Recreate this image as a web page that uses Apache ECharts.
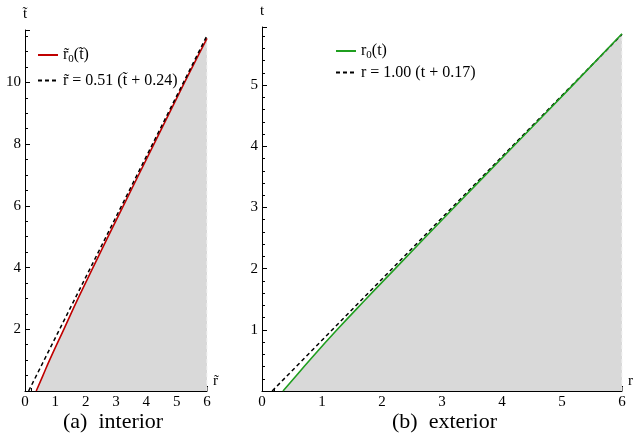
<!DOCTYPE html>
<html>
<head>
<meta charset="utf-8">
<script src="https://cdn.jsdelivr.net/npm/echarts@6/dist/echarts.min.js"></script>
<style>
  html, body { margin: 0; padding: 0; background: #fff; }
  #main { width: 642px; height: 441px; }
</style>
</head>
<body>
<div id="main"></div>
<script>
// (a) interior: r~0(t~), r~ on x, t~ on y
const intR = [0.37, 0.59, 0.81, 1.28, 1.75, 2.24, 3.24, 4.25, 5.26, 6.0];
const intT = [0, 0.5, 1, 2, 3, 4, 6, 8, 10, 11.43];
// dashed fit r~ = 0.51 (t~ + 0.24), end points
const intFitR = [0.12, 6.0];
const intFitT = [0, 11.52];

// (b) exterior: r0(t)
const extR = [0.35, 0.57, 0.79, 1.25, 1.73, 2.22, 3.20, 4.19, 5.18, 6.0];
const extT = [0, 0.25, 0.5, 1, 1.5, 2, 3, 4, 5, 5.84];
// dashed fit r = 1.00 (t + 0.17)
const extFitR = [0.17, 6.0];
const extFitT = [0, 5.83];

const captions = ['(a)  interior', '(b)  exterior'];

const font = 'Liberation Serif';
const RED = '#c00000';
const GREEN = '#1f9e1f';
const GRAY = '#d9d9d9';

function pairs(xs, ys) {
  return xs.map((x, i) => [x, ys[i]]);
}

function xAxisOf(idx, name) {
  return {
    type: 'value', gridIndex: idx, min: 0, max: 6, interval: 1,
    name: name, nameLocation: 'end', nameGap: 6,
    nameTextStyle: { fontFamily: font, fontSize: 15, color: '#000', verticalAlign: 'bottom', padding: [0, 0, 2, 0] },
    axisLine: { onZero: false, lineStyle: { color: '#000', width: 1 } },
    axisTick: { inside: true, length: 5, lineStyle: { color: '#000' } },
    minorTick: { show: true, splitNumber: 5, length: 3, lineStyle: { color: '#000' } },
    axisLabel: { fontFamily: font, fontSize: 15, color: '#000', margin: 4 },
    splitLine: { show: false }
  };
}

function yAxisOf(idx, name, max, interval, minor) {
  return {
    type: 'value', gridIndex: idx, min: 0, max: max, interval: interval,
    name: name, nameLocation: 'end', nameGap: 8,
    nameTextStyle: { fontFamily: font, fontSize: 15, color: '#000', align: 'center' },
    axisLine: { show: true, onZero: false, lineStyle: { color: '#000', width: 1 } },
    axisTick: { show: true, inside: true, length: 5, lineStyle: { color: '#000' } },
    minorTick: { show: true, splitNumber: minor, length: 3, lineStyle: { color: '#000' } },
    axisLabel: { fontFamily: font, fontSize: 15, color: '#000', margin: 4, showMinLabel: false, showMaxLabel: false },
    splitLine: { show: false }
  };
}

const rich = {
  n: { fontFamily: font, fontSize: 16, color: '#000' },
  s: { fontFamily: font, fontSize: 11, color: '#000', padding: [8, 0, 0, 0] }
};
const legendText = {
  'r\u03030(t\u0303)': '{n|r\u0303}{s|0}{n|(t\u0303)}',
  'r\u0303 = 0.51 (t\u0303 + 0.24)': '{n|r\u0303 = 0.51 (t\u0303 + 0.24)}',
  'r0(t)': '{n|r}{s|0}{n|(t)}',
  'r = 1.00 (t + 0.17)': '{n|r = 1.00 (t + 0.17)}'
};

function legendOf(names, left, top, gap) {
  return {
    data: names, orient: 'vertical', left: left, top: top,
    itemWidth: 20, itemHeight: 10, itemGap: gap,
    itemStyle: { opacity: 0 },
    formatter: (n) => legendText[n],
    textStyle: { rich: rich }
  };
}

const chart = echarts.init(document.getElementById('main'));

chart.setOption({
  animation: false,
  grid: [
    { left: 25, right: 435, top: 30, bottom: 50 },
    { left: 262, right: 20, top: 27, bottom: 50 }
  ],
  xAxis: [xAxisOf(0, 'r\u0303'), xAxisOf(1, 'r')],
  yAxis: [
    yAxisOf(0, 't\u0303', 11.7, 2, 4),
    yAxisOf(1, 't', 5.95, 1, 5)
  ],
  legend: [
    legendOf(['r\u03030(t\u0303)', 'r\u0303 = 0.51 (t\u0303 + 0.24)'], 32, 42, 8),
    legendOf(['r0(t)', 'r = 1.00 (t + 0.17)'], 330, 38, 4)
  ],
  graphic: [
    { type: 'text', left: 63, top: 411, style: { text: captions[0], fontFamily: font, fontSize: 22, fill: '#000' } },
    { type: 'text', left: 392, top: 411, style: { text: captions[1], fontFamily: font, fontSize: 22, fill: '#000' } }
  ],
  series: [
    // shaded region under the curves
    {
      type: 'line', xAxisIndex: 0, yAxisIndex: 0, data: pairs(intR, intT), smooth: true,
      symbol: 'none', lineStyle: { width: 0 }, areaStyle: { color: GRAY, opacity: 1 }, silent: true, z: 1
    },
    {
      type: 'line', xAxisIndex: 1, yAxisIndex: 1, data: pairs(extR, extT), smooth: true,
      symbol: 'none', lineStyle: { width: 0 }, areaStyle: { color: GRAY, opacity: 1 }, silent: true, z: 1
    },
    // light dashed edge at r = 6
    {
      type: 'line', xAxisIndex: 0, yAxisIndex: 0,
      data: [[intR[intR.length - 1], 0], [intR[intR.length - 1], intT[intT.length - 1]]],
      symbol: 'none', lineStyle: { color: '#f4f4f4', width: 1, type: [4, 3] }, silent: true, z: 2
    },
    {
      type: 'line', xAxisIndex: 1, yAxisIndex: 1,
      data: [[extR[extR.length - 1], 0], [extR[extR.length - 1], extT[extT.length - 1]]],
      symbol: 'none', lineStyle: { color: '#f4f4f4', width: 1, type: [4, 3] }, silent: true, z: 2
    },
    {
      name: 'r\u03030(t\u0303)', type: 'line', xAxisIndex: 0, yAxisIndex: 0,
      data: pairs(intR, intT), smooth: true, symbol: 'none',
      lineStyle: { color: RED, width: 1.6 }, itemStyle: { color: RED }, z: 3
    },
    {
      name: 'r\u0303 = 0.51 (t\u0303 + 0.24)', type: 'line', xAxisIndex: 0, yAxisIndex: 0,
      data: pairs(intFitR, intFitT), symbol: 'none',
      lineStyle: { color: '#000', width: 1.5, type: [4, 3] }, itemStyle: { color: '#000' }, z: 4
    },
    {
      name: 'r = 1.00 (t + 0.17)', type: 'line', xAxisIndex: 1, yAxisIndex: 1,
      data: pairs(extFitR, extFitT), symbol: 'none',
      lineStyle: { color: '#000', width: 1.5, type: [4, 3] }, itemStyle: { color: '#000' }, z: 3
    },
    {
      name: 'r0(t)', type: 'line', xAxisIndex: 1, yAxisIndex: 1,
      data: pairs(extR, extT), smooth: true, symbol: 'none',
      lineStyle: { color: GREEN, width: 1.6 }, itemStyle: { color: GREEN }, z: 4
    }
  ]
});
</script>
</body>
</html>
